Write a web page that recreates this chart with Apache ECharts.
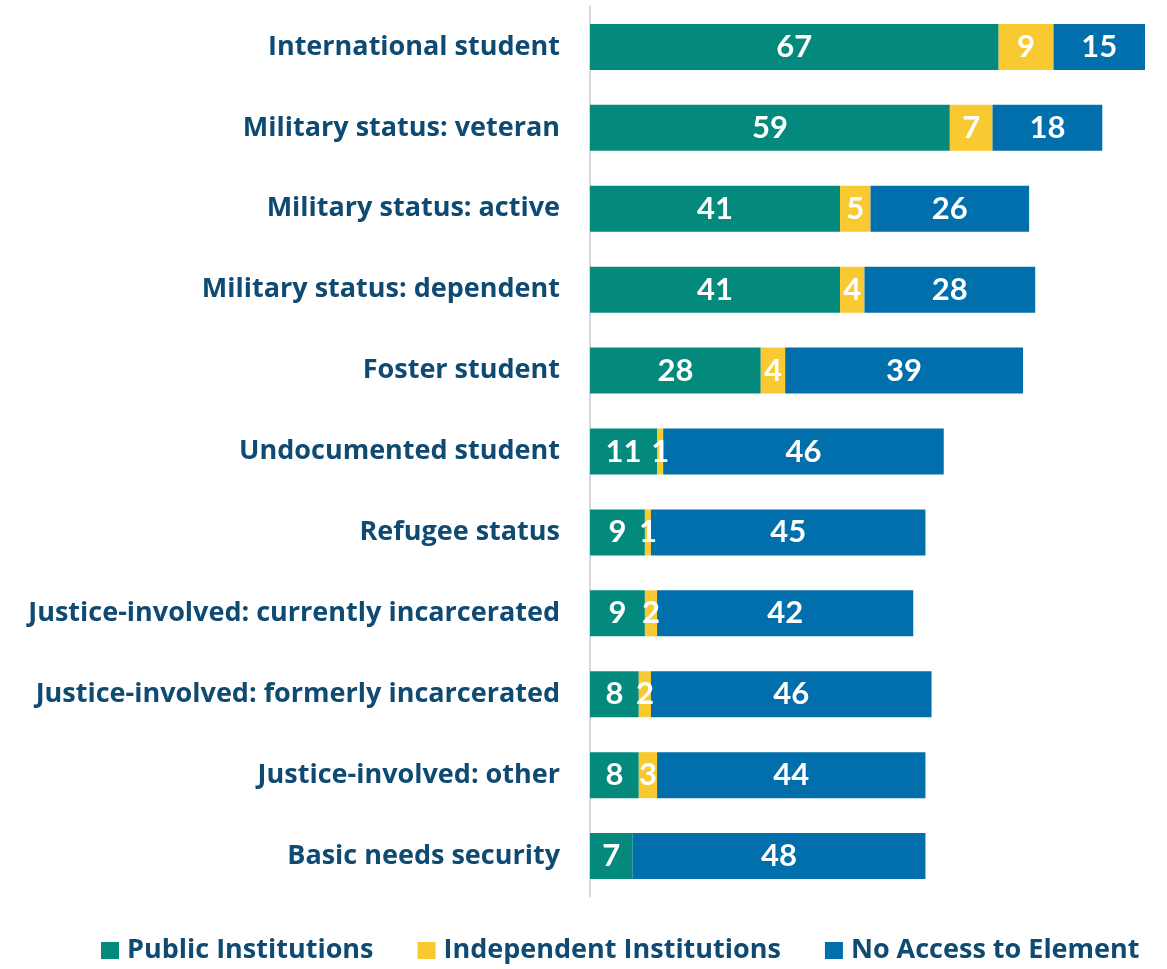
<!DOCTYPE html>
<html>
<head>
<meta charset="utf-8">
<script src="https://cdn.jsdelivr.net/npm/echarts@6/dist/echarts.min.js"></script>
<style>
  html, body { margin: 0; padding: 0; background: #fff; }
  #chart { width: 1167px; height: 969px; }
</style>
</head>
<body>
<div id="chart"></div>
<script>
// Student population categories, top to bottom
const categories = [
  'International student',
  'Military status: veteran',
  'Military status: active',
  'Military status: dependent',
  'Foster student',
  'Undocumented student',
  'Refugee status',
  'Justice-involved: currently incarcerated',
  'Justice-involved: formerly incarcerated',
  'Justice-involved: other',
  'Basic needs security'
];

const seriesNames = ['Public Institutions', 'Independent Institutions', 'No Access to Element'];

const publicValues      = [67, 59, 41, 41, 28, 11, 9, 9, 8, 8, 7];
const independentValues = [9, 7, 5, 4, 4, 1, 1, 2, 2, 3, 0];
const noAccessValues    = [15, 18, 26, 28, 39, 46, 45, 42, 46, 44, 48];

const colors = ['#038A7D', '#F9C932', '#006FAB'];
const textColor = '#0E4A72';
const labelFont = '"Open Sans", Lato, sans-serif';
const valueFont = 'Lato, "Open Sans", sans-serif';

const chart = echarts.init(document.getElementById('chart'));

function makeSeries(name, values, color) {
  return {
    name: name,
    type: 'bar',
    stack: 'total',
    barWidth: 46,
    data: values,
    itemStyle: { color: color },
    label: {
      show: true,
      position: 'inside',
      color: '#ffffff',
      fontFamily: valueFont,
      fontSize: 31,
      fontWeight: 'bold',
      formatter: p => (p.value ? String(p.value) : '')
    },
    emphasis: { disabled: true }
  };
}

chart.setOption({
  animation: false,
  color: colors,
  grid: { left: 590, right: 22, top: 6.5, bottom: 72.5, containLabel: false },
  legend: {
    top: 932,
    left: 96,
    itemWidth: 18,
    itemHeight: 17,
    itemGap: 44,
    icon: 'rect',
    textStyle: {
      color: textColor,
      fontSize: 27,
      fontWeight: 'bold',
      fontFamily: labelFont,
      padding: [0, 0, 0, 3]
    },
    data: seriesNames
  },
  xAxis: {
    type: 'value',
    min: 0,
    max: 91,
    show: false
  },
  yAxis: {
    type: 'category',
    inverse: true,
    data: categories,
    axisTick: { show: false },
    axisLine: { show: true, lineStyle: { color: '#D9D9D9', width: 2 } },
    axisLabel: {
      color: textColor,
      fontSize: 27,
      fontWeight: 'bold',
      fontFamily: labelFont,
      margin: 30
    }
  },
  series: [
    makeSeries(seriesNames[0], publicValues, colors[0]),
    makeSeries(seriesNames[1], independentValues, colors[1]),
    makeSeries(seriesNames[2], noAccessValues, colors[2])
  ]
});
</script>
</body>
</html>
